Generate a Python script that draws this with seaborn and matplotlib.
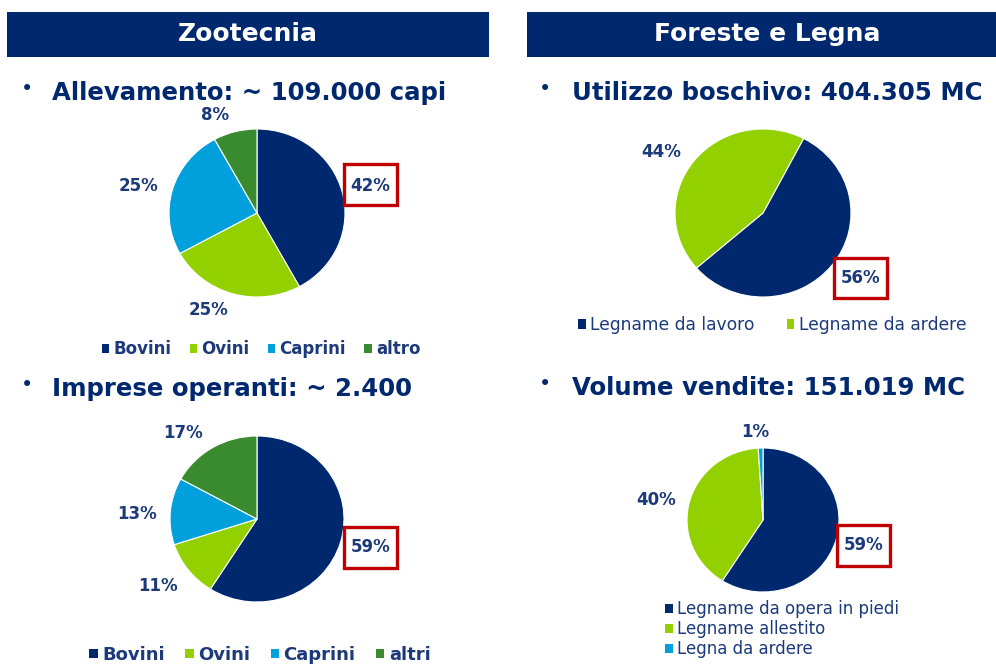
import matplotlib.pyplot as plt
import seaborn as sns
from matplotlib.patches import Rectangle, Patch

# chart values
allev_labels = ["Bovini", "Ovini", "Caprini", "altro"]
allev_pct = [42, 25, 25, 8]

imprese_labels = ["Bovini", "Ovini", "Caprini", "altri"]
imprese_pct = [59, 11, 13, 17]

utilizzo_labels = ["Legname da lavoro", "Legname da ardere"]
utilizzo_pct = [56, 44]

vendite_labels = ["Legname da opera in piedi", "Legname allestito", "Legna da ardere"]
vendite_pct = [59, 40, 1]

sns.set_theme(style="white")
plt.rcParams['font.family'] = ['DejaVu Sans']

NAVY = "#00286E"
LIME = "#92D000"
SKY = "#00A0DC"
GREEN = "#3A8A2F"
TEXT = "#1C3A7A"
RED = "#C00000"

W, H = 996, 665
fig = plt.figure(figsize=(W / 100, H / 100), dpi=100)
fig.patch.set_facecolor("white")


def fx(x):
    return x / W


def fy(y):
    return 1 - y / H


def header(x0, x1, text, tx):
    fig.add_artist(Rectangle((fx(x0), fy(57)), (x1 - x0) / W, 45 / H,
                             transform=fig.transFigure, color=NAVY, lw=0))
    fig.text(fx(tx), fy(34), text, color="white", fontsize=18,
             fontweight="bold", ha="center", va="center")


def subtitle(xb, xt, yb, text):
    fig.text(fx(xb), fy(yb - 11), "\u2022", color=NAVY, fontsize=15,
             ha="center", va="center")
    fig.text(fx(xt), fy(yb), text, color=NAVY, fontsize=17.6,
             fontweight="bold", ha="left", va="baseline")


def draw_pie(cx, cy, rx, ry, values, colors, start):
    pad = 1.05
    ax = fig.add_axes([fx(cx - rx * pad), fy(cy + ry * pad),
                       2 * rx * pad / W, 2 * ry * pad / H])
    ax.pie(values, colors=colors, startangle=start, counterclock=False,
           wedgeprops=dict(edgecolor="white", linewidth=0.8))
    ax.set_aspect("auto")
    ax.set_xlim(-pad, pad)
    ax.set_ylim(-pad, pad)
    ax.axis("off")
    return ax


def pct_labels(values, positions, boxed):
    for v, (x, y) in zip(values, positions):
        fig.text(fx(x), fy(y), f"{v}%", color=TEXT, fontsize=12,
                 fontweight="bold", ha="center", va="center", zorder=6)
    x0, y0, x1, y1 = boxed
    fig.add_artist(Rectangle((fx(x0), fy(y1)), (x1 - x0) / W, (y1 - y0) / H,
                             transform=fig.transFigure, facecolor="white",
                             edgecolor=RED, lw=2.4, zorder=5))


def legend(labels, colors, anchor, loc, ncol, bold, size, colspace, lspace=0.5):
    handles = [Patch(facecolor=c, edgecolor="none", label=l) for l, c in zip(labels, colors)]
    fig.legend(handles=handles, loc=loc, bbox_to_anchor=(fx(anchor[0]), fy(anchor[1])),
               ncol=ncol, frameon=False,
               prop=dict(weight="bold" if bold else "normal", size=size),
               labelcolor=TEXT, handlelength=0.45, handleheight=0.45,
               handletextpad=0.25, columnspacing=colspace, labelspacing=lspace,
               borderaxespad=0, borderpad=0)


# headers
header(7, 489, "Zootecnia", 248)
header(527, 996, "Foreste e Legna", 767)

# Zootecnia - Allevamento
subtitle(27, 52, 100, "Allevamento: ~ 109.000 capi")
draw_pie(257, 213, 88, 84, allev_pct, [NAVY, LIME, SKY, GREEN], 90)
pct_labels(allev_pct, [(370, 186), (208, 310), (139, 186), (215, 115)], (344, 164, 397, 205))
legend(allev_labels, [NAVY, LIME, SKY, GREEN], (261, 349), "center", 4, True, 12, 1.1)

# Zootecnia - Imprese
subtitle(27, 52, 396, "Imprese operanti: ~ 2.400")
draw_pie(257, 519, 87, 83, imprese_pct, [NAVY, LIME, SKY, GREEN], 90)
pct_labels(imprese_pct, [(371, 547), (158, 586), (137, 514), (183, 433)], (344, 527, 397, 568))
legend(imprese_labels, [NAVY, LIME, SKY, GREEN], (260, 655), "center", 4, True, 13, 1.15)

# Foreste - Utilizzo boschivo
subtitle(545, 572, 100, "Utilizzo boschivo: 404.305 MC")
draw_pie(763, 213, 88, 84, utilizzo_pct, [NAVY, LIME], 62.5)
pct_labels(utilizzo_pct, [(861, 278), (661, 152)], (834, 258, 887, 298))
legend(utilizzo_labels, [NAVY, LIME], (772, 325), "center", 2, False, 12.3, 1.9)

# Foreste - Volume vendite
subtitle(545, 572, 395, "Volume vendite: 151.019 MC")
draw_pie(763, 520, 76, 72, vendite_pct, [NAVY, LIME, SKY], 90)
pct_labels(vendite_pct, [(864, 545), (656, 500), (755, 432)], (837, 525, 890, 566))
legend(vendite_labels, [NAVY, LIME, SKY], (665, 600), "upper left", 1, False, 12, 1.0, 0.12)

fig.savefig("out.png", dpi=100, facecolor="white")
